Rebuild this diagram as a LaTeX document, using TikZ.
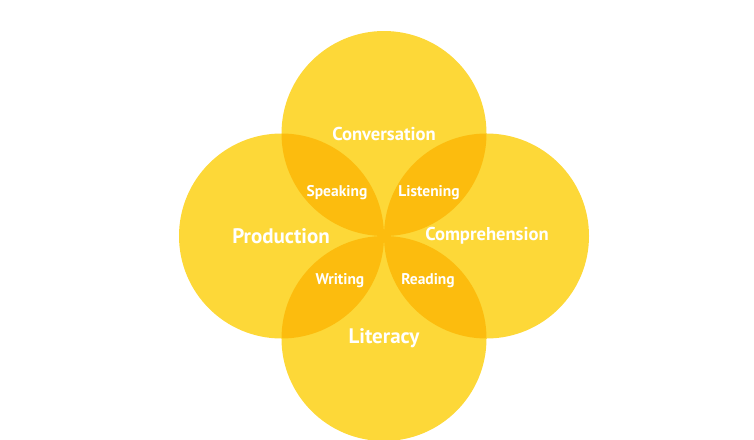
\documentclass[tikz,border=0pt]{standalone}
\usepackage{fontspec}
\setmainfont{PT Sans}
\definecolor{baseY}{RGB}{253,216,56}
\definecolor{overY}{RGB}{252,188,14}
\begin{document}
\begin{tikzpicture}[x=1pt,y=-1pt,
  lbl/.style={text=white,font=\bfseries,inner sep=0pt},
  big/.style={lbl,font=\bfseries\fontsize{21}{23}\selectfont},
  mid/.style={lbl,font=\bfseries\fontsize{18.6}{21}\selectfont},
  small/.style={lbl,font=\bfseries\fontsize{15.5}{17}\selectfont}]
\useasboundingbox (0,0) rectangle (754,439);
\def\R{102.5}
\coordinate (T) at (384,133.5);
\coordinate (L) at (281.5,236);
\coordinate (Rt) at (486.5,236);
\coordinate (B) at (384,338.5);
\foreach \c in {T,L,Rt,B} \fill[baseY] (\c) circle (\R);
\begin{scope}\clip (T) circle (\R); \fill[overY] (L) circle (\R); \fill[overY] (Rt) circle (\R);\end{scope}
\begin{scope}\clip (B) circle (\R); \fill[overY] (L) circle (\R); \fill[overY] (Rt) circle (\R);\end{scope}
\node[mid] (conv) at (384,134) {Conversation};
\node[big] (prod) at (281,236) {Production};
\node[mid] (comp) at (487,236) {Comprehension};
\node[big] (lit) at (384,338) {Literacy};
\node[small] (spk) at (337,193) {Speaking};
\node[small] (lst) at (429,193) {Listening};
\node[small] (wrt) at (340,281) {Writing};
\node[small] (rd) at (428,281) {Reading};
\end{tikzpicture}
\end{document}
